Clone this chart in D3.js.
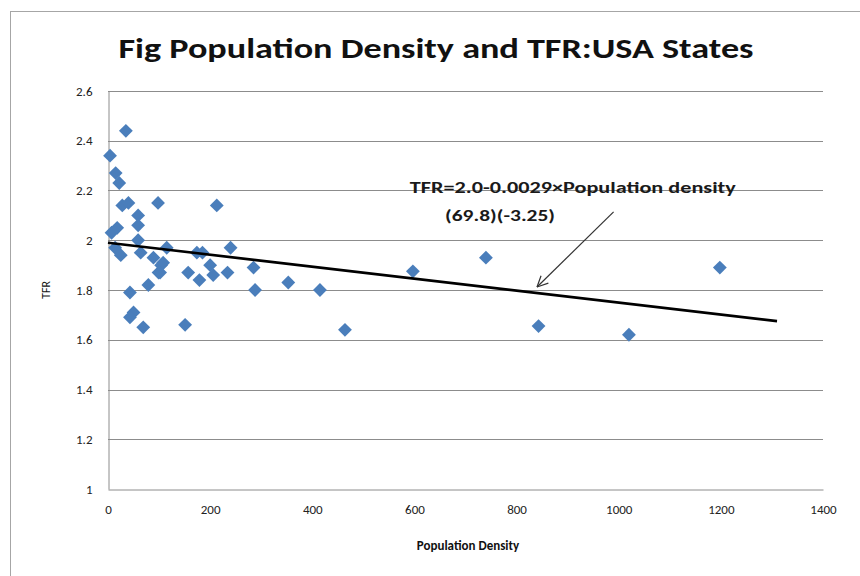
<!DOCTYPE html>
<html>
<head>
<meta charset="utf-8">
<script src="https://cdn.jsdelivr.net/npm/d3@7"></script>
<style>
    body { margin: 0; background: #fff; }
    svg { display: block; }
    text { font-family: Carlito, "DejaVu Sans Condensed", "Liberation Sans Narrow", "Open Sans", sans-serif; }
</style>
</head>
<body>
<svg id="chart" width="860" height="576"></svg>
<script>
// population density (per sq mile) and TFR per state
const density = [4, 35, 15, 22, 28, 40, 98, 213, 59, 59, 7, 18, 59, 14, 25, 64, 115, 89, 104, 99,
    79, 43, 50, 43, 69, 151, 157, 179, 174, 185, 200, 206, 234, 240, 285, 288, 353, 415, 464, 597,
    740, 843, 1020, 1198, 108, 102];
const tfr = [2.34, 2.44, 2.27, 2.23, 2.14, 2.15, 2.15, 2.14, 2.10, 2.06, 2.03, 2.05, 2.00, 1.97, 1.94, 1.95, 1.97, 1.93, 1.90, 1.87,
    1.82, 1.79, 1.71, 1.69, 1.65, 1.66, 1.87, 1.84, 1.95, 1.95, 1.90, 1.86, 1.87, 1.97, 1.89, 1.80, 1.83, 1.80, 1.64, 1.875,
    1.93, 1.655, 1.62, 1.89, 1.91, 1.87];

const xTicks = [0, 200, 400, 600, 800, 1000, 1200, 1400];
const yTicks = [1, 1.2, 1.4, 1.6, 1.8, 2, 2.2, 2.4, 2.6];

// fitted line as drawn
const trendX = [0, 1310];
const trendY = [1.99, 1.675];

const titleText = "Fig  Population Density and TFR:USA States";
const eqLines = ["TFR=2.0-0.0029\u00d7Population  density", "(69.8)(-3.25)"];
const eqPos = [[591, 2.19], [660, 2.077]];
const arrowFrom = [990, 2.114];
const arrowTo = [840, 1.812];

const svg = d3.select("#chart");

svg.append("rect")
    .attr("x", 10.5).attr("y", 11.5)
    .attr("width", 870).attr("height", 600)
    .attr("fill", "#fff")
    .attr("stroke", "#a6a6a6");

const x = d3.scaleLinear().domain([0, 1400]).range([108, 823]);
const y = d3.scaleLinear().domain([1, 2.6]).range([489, 91]);

// gridlines
svg.append("g")
    .selectAll("line")
    .data(yTicks.slice(1))
    .join("line")
    .attr("x1", x(0)).attr("x2", x(1400))
    .attr("y1", d => Math.round(y(d)) + 0.5)
    .attr("y2", d => Math.round(y(d)) + 0.5)
    .attr("stroke", "#8c8c8c")
    .attr("stroke-width", 1);

let yAxis = svg.append("g")
    .attr("transform", "translate(" + (x(0) + 0.5) + ",0)")
    .call(d3.axisLeft(y).tickValues(yTicks).tickFormat(d => String(+d.toFixed(1))).tickSize(0).tickPadding(16));
let xAxis = svg.append("g")
    .attr("transform", "translate(0," + (Math.round(y(1)) + 0.5) + ")")
    .call(d3.axisBottom(x).tickValues(xTicks).tickFormat(d => String(d)).tickSize(0).tickPadding(15));

[xAxis, yAxis].forEach(a => {
    a.select(".domain").attr("stroke", "#8c8c8c");
    a.selectAll("text")
        .attr("font-size", 13)
        .attr("fill", "#222");
});

const diamond = d3.symbol().type(d3.symbolDiamond2).size(122);
svg.append("g")
    .selectAll("path")
    .data(density.map((d, i) => [d, tfr[i]]))
    .join("path")
    .attr("d", diamond)
    .attr("transform", d => "translate(" + x(d[0]) + "," + y(d[1]) + ")")
    .attr("fill", "#4a7ebb");

svg.append("line")
    .attr("x1", x(trendX[0])).attr("y1", y(trendY[0]))
    .attr("x2", x(trendX[1])).attr("y2", y(trendY[1]))
    .attr("stroke", "#000")
    .attr("stroke-width", 2.6);

// annotation
svg.selectAll(".eq")
    .data(eqLines)
    .join("text")
    .classed("eq", true)
    .attr("x", (d, i) => x(eqPos[i][0]))
    .attr("y", (d, i) => y(eqPos[i][1]))
    .attr("font-size", 15)
    .attr("font-weight", "bold")
    .attr("fill", "#1a1a1a")
    .attr("textLength", (d, i) => i === 0 ? 326 : 110)
    .attr("lengthAdjust", "spacingAndGlyphs")
    .text(d => d);

const ax1 = x(arrowFrom[0]), ay1 = y(arrowFrom[1]);
const ax2 = x(arrowTo[0]), ay2 = y(arrowTo[1]);
const ang = Math.atan2(ay2 - ay1, ax2 - ax1);
svg.append("line")
    .attr("x1", ax1).attr("y1", ay1)
    .attr("x2", ax2).attr("y2", ay2)
    .attr("stroke", "#333")
    .attr("stroke-width", 1.2);
svg.append("path")
    .attr("d", [-0.45, 0.45].map(o =>
        "M" + ax2 + "," + ay2 + "L" + (ax2 - 12 * Math.cos(ang + o)) + "," + (ay2 - 12 * Math.sin(ang + o))).join(""))
    .attr("stroke", "#333")
    .attr("stroke-width", 1.2)
    .attr("fill", "none");

svg.append("text")
    .attr("x", 436).attr("y", 58)
    .attr("text-anchor", "middle")
    .attr("font-size", 28)
    .attr("font-weight", "bold")
    .attr("fill", "#111")
    .attr("textLength", 635)
    .attr("lengthAdjust", "spacingAndGlyphs")
    .text(titleText);

svg.append("text")
    .attr("x", 468).attr("y", 550)
    .attr("text-anchor", "middle")
    .attr("font-size", 13)
    .attr("font-weight", "bold")
    .attr("fill", "#111")
    .text("Population Density");

svg.append("text")
    .attr("transform", "translate(50,290) rotate(-90)")
    .attr("text-anchor", "middle")
    .attr("font-size", 12)
    .attr("fill", "#111")
    .text("TFR");
</script>
</body>
</html>
